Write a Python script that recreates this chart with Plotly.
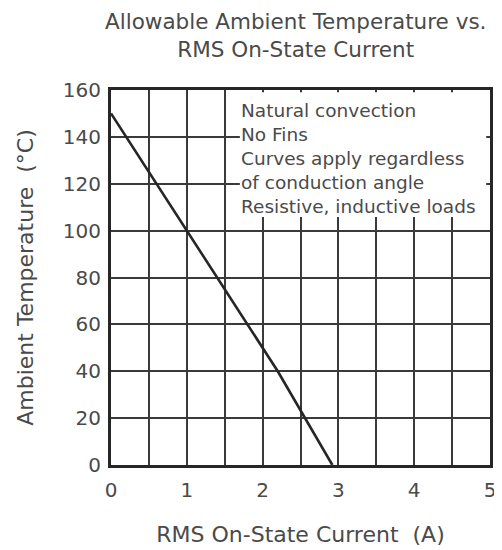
import plotly.graph_objects as go

current_a = [0.0, 1.0, 2.2, 2.92]
ambient_c = [150, 100, 40, 0]

x_ticks = [0, 1, 2, 3, 4, 5]
y_ticks = [0, 20, 40, 60, 80, 100, 120, 140, 160]

note_lines = [
    "Natural convection",
    "No Fins",
    "Curves apply regardless",
    "of conduction angle",
    "Resistive, inductive loads",
]

title_text = "Allowable Ambient Temperature vs.<br>RMS On-State Current"
x_title = "RMS On-State Current  (A)"
y_title = "Ambient Temperature  (°C)"

FONT = "DejaVu Sans, Liberation Sans, Arial, sans-serif"
GRID = "#3a3a3a"
TXT = "#4a4a4a"

# page body has an 8px default margin; margins below compensate for it
ML, MR, MT, MB = 103, 20, 82, 93
PH = 550 - MT - MB

fig = go.Figure()
fig.add_trace(go.Scatter(
    x=current_a, y=ambient_c, mode="lines",
    line=dict(color="#262626", width=2.6),
    showlegend=False, hoverinfo="skip",
))

fig.add_shape(type="rect", xref="x", yref="y",
              x0=1.7, x1=4.95, y0=105.8, y1=159.0,
              fillcolor="white", line=dict(width=0), layer="between")

fig.add_annotation(
    xref="x", yref="y", x=1.69, y=156.8, xanchor="left", yanchor="top",
    text="<br>".join(note_lines), showarrow=False, align="left",
    font=dict(family=FONT, size=18.5, color=TXT),
)

fig.add_annotation(
    xref="paper", yref="paper", x=0.488, y=1 + (MT + 1) / PH,
    xanchor="center", yanchor="top",
    text=title_text, showarrow=False, align="center",
    font=dict(family=FONT, size=21.5, color=TXT),
)

fig.update_layout(
    width=502, height=550,
    margin=dict(l=ML, r=MR, t=MT, b=MB, autoexpand=False),
    paper_bgcolor="white", plot_bgcolor="white",
    font=dict(family=FONT, color=TXT),
)

fig.update_xaxes(
    range=[0, 5], tickmode="array", tickvals=x_ticks,
    ticktext=[str(v) for v in x_ticks],
    showgrid=True, gridcolor=GRID, gridwidth=1.5,
    minor=dict(dtick=0.5, tick0=0, showgrid=True, gridcolor=GRID, gridwidth=1.5),
    showline=True, linecolor="#262626", linewidth=3, mirror=True,
    ticks="", zeroline=False, ticklabelstandoff=5,
    tickfont=dict(family=FONT, size=20, color=TXT),
    title=dict(text=x_title, font=dict(family=FONT, size=22, color=TXT), standoff=26),
)
fig.update_yaxes(
    range=[0, 160], tickmode="array", tickvals=y_ticks,
    ticktext=[str(v) for v in y_ticks],
    showgrid=True, gridcolor=GRID, gridwidth=1.5,
    showline=True, linecolor="#262626", linewidth=3, mirror=True,
    ticks="", zeroline=False, ticklabelstandoff=3,
    tickfont=dict(family=FONT, size=20, color=TXT),
    title=dict(text=y_title, font=dict(family=FONT, size=22, color=TXT), standoff=24),
)

fig.write_html("out.html")
